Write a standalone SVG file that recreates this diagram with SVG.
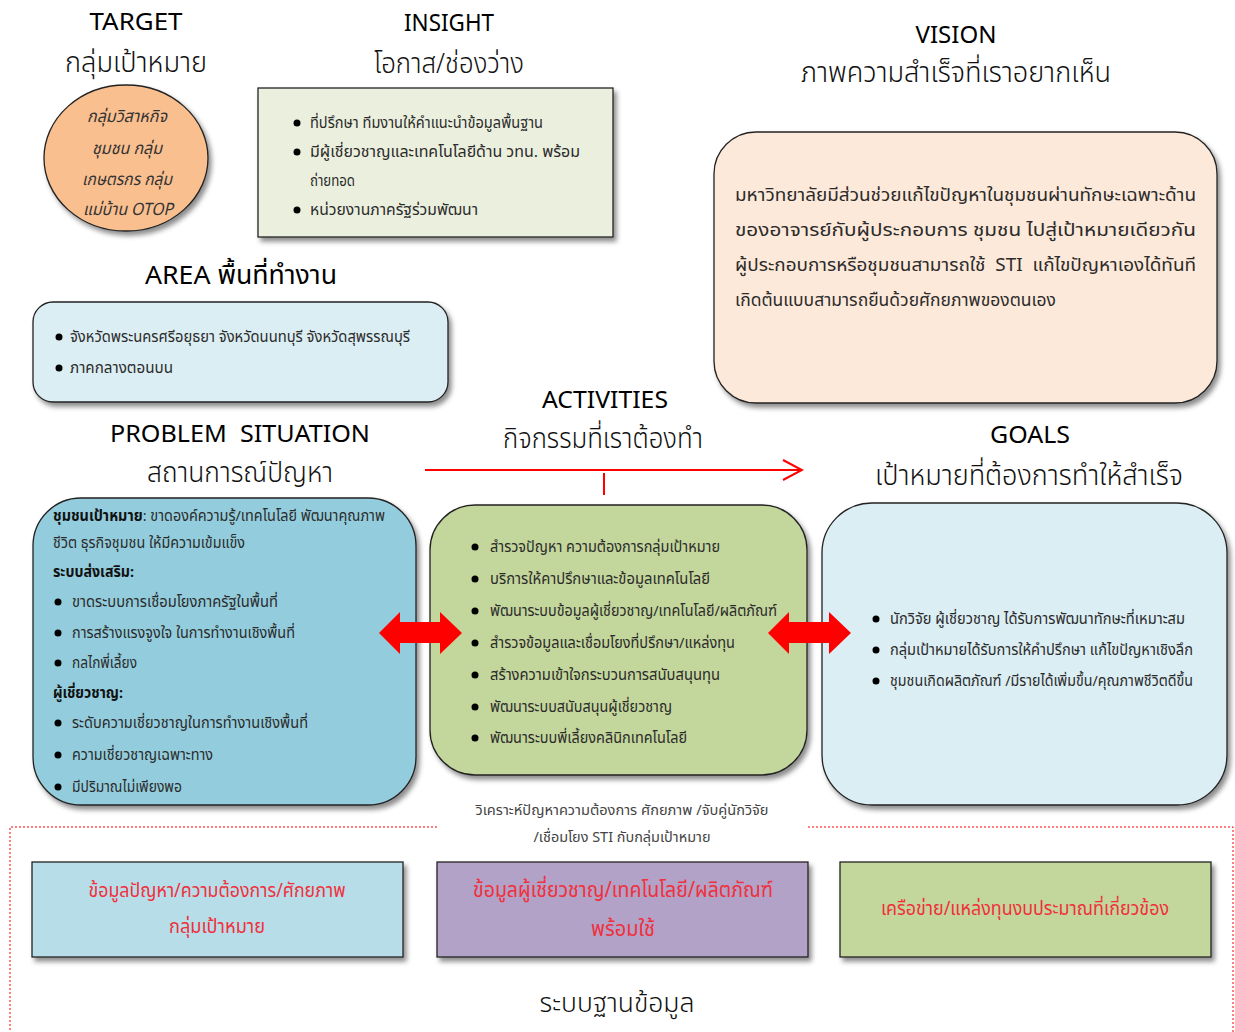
<svg xmlns="http://www.w3.org/2000/svg" width="1235" height="1032" viewBox="0 0 1235 1032">
<defs>
<filter id="sh" x="-10%" y="-10%" width="125%" height="130%">
<feDropShadow dx="3" dy="4" stdDeviation="2.5" flood-color="#000" flood-opacity="0.45"/>
</filter>
<marker id="chev" viewBox="0 0 22 22" refX="20" refY="11" markerWidth="22" markerHeight="22" markerUnits="userSpaceOnUse" orient="auto">
<path d="M1,1 L20,11 L1,21" fill="none" stroke="#FF0000" stroke-width="2"/>
</marker>
</defs>
<style>
text{font-family:"Noto Sans Thai","Noto Sans","DejaVu Sans","Liberation Sans",sans-serif;}
.en{font-size:24px;fill:#000;text-anchor:middle;}
.th{font-size:28px;fill:#111;text-anchor:middle;font-weight:300;}
.hd{font-size:26px;fill:#000;text-anchor:middle;font-weight:normal;}
.b{font-size:15px;fill:#2b2b2b;}
.bd{font-weight:bold;fill:#111;}
.vs{font-size:18px;fill:#2b2b2b;}
.ci{font-size:17px;fill:#333;font-style:italic;text-anchor:middle;}
.rd{fill:#F0303C;text-anchor:middle;}
.box{stroke:#222;stroke-width:1.3;filter:url(#sh);}
.dot{fill:#000;}
.conn{fill:#FF0000;}
</style>
<rect width="1235" height="1032" fill="#fff"/>

<g id="target">
<text class="en" x="136" y="30" textLength="93" lengthAdjust="spacingAndGlyphs">TARGET</text>
<text class="th" x="136" y="72" textLength="142" lengthAdjust="spacingAndGlyphs">กลุ่มเป้าหมาย</text>
<ellipse class="box" cx="126" cy="158" rx="82" ry="73" fill="#FABF8F"/>
<text class="ci" x="127" y="122" textLength="80" lengthAdjust="spacingAndGlyphs">กลุ่มวิสาหกิจ</text>
<text class="ci" x="127" y="154" textLength="70" lengthAdjust="spacingAndGlyphs">ชุมชน กลุ่ม</text>
<text class="ci" x="127" y="185" textLength="90" lengthAdjust="spacingAndGlyphs">เกษตรกร กลุ่ม</text>
<text class="ci" x="128" y="215" textLength="90" lengthAdjust="spacingAndGlyphs">แม่บ้าน OTOP</text>
</g>

<g id="insight">
<text class="en" x="449" y="31" textLength="90" lengthAdjust="spacingAndGlyphs">INSIGHT</text>
<text class="th" x="449" y="73" textLength="150" lengthAdjust="spacingAndGlyphs">โอกาส/ช่องว่าง</text>
<rect class="box" x="258" y="88" width="355" height="149" fill="#EBF0DE"/>
<circle class="dot" cx="297" cy="123" r="3.5"/>
<text class="b" x="310" y="128" textLength="233" lengthAdjust="spacingAndGlyphs">ที่ปรึกษา ทีมงานให้คำแนะนำข้อมูลพื้นฐาน</text>
<circle class="dot" cx="297" cy="152" r="3.5"/>
<text class="b" x="310" y="157" textLength="270" lengthAdjust="spacingAndGlyphs">มีผู้เชี่ยวชาญและเทคโนโลยีด้าน วทน. พร้อม</text>
<text class="b" x="310" y="186" textLength="45" lengthAdjust="spacingAndGlyphs">ถ่ายทอด</text>
<circle class="dot" cx="297" cy="210" r="3.5"/>
<text class="b" x="310" y="215" textLength="168" lengthAdjust="spacingAndGlyphs">หน่วยงานภาครัฐร่วมพัฒนา</text>
</g>

<g id="vision">
<text class="en" x="956" y="43" textLength="81" lengthAdjust="spacingAndGlyphs">VISION</text>
<text class="th" x="956" y="82" textLength="310" lengthAdjust="spacingAndGlyphs">ภาพความสำเร็จที่เราอยากเห็น</text>
<rect class="box" x="714" y="132" width="503" height="271" rx="42" fill="#FDE9D9"/>
<text class="vs" x="735" y="201" textLength="461" lengthAdjust="spacingAndGlyphs">มหาวิทยาลัยมีส่วนช่วยแก้ไขปัญหาในชุมชนผ่านทักษะเฉพาะด้าน</text>
<text class="vs" x="735" y="236" textLength="461" lengthAdjust="spacingAndGlyphs">ของอาจารย์กับผู้ประกอบการ ชุมชน ไปสู่เป้าหมายเดียวกัน</text>
<text class="vs" x="735" y="271" textLength="461" lengthAdjust="spacingAndGlyphs">ผู้ประกอบการหรือชุมชนสามารถใช้&#160;&#160;STI&#160;&#160;แก้ไขปัญหาเองได้ทันที</text>
<text class="vs" x="735" y="306" textLength="321" lengthAdjust="spacingAndGlyphs">เกิดต้นแบบสามารถยืนด้วยศักยภาพของตนเอง</text>
</g>

<g id="area">
<text class="hd" x="241" y="284" textLength="192" lengthAdjust="spacingAndGlyphs">AREA พื้นที่ทำงาน</text>
<rect class="box" x="33" y="302" width="415" height="100" rx="20" fill="#DBEEF4"/>
<circle class="dot" cx="59" cy="337" r="3.5"/>
<text class="b" x="70" y="342" textLength="340" lengthAdjust="spacingAndGlyphs">จังหวัดพระนครศรีอยุธยา จังหวัดนนทบุรี จังหวัดสุพรรณบุรี</text>
<circle class="dot" cx="59" cy="368" r="3.5"/>
<text class="b" x="70" y="373" textLength="103" lengthAdjust="spacingAndGlyphs">ภาคกลางตอนบน</text>
</g>

<g id="problem">
<text class="en" x="240" y="442" textLength="260" lengthAdjust="spacingAndGlyphs">PROBLEM&#160;&#160;SITUATION</text>
<text class="th" x="240" y="482" textLength="186" lengthAdjust="spacingAndGlyphs">สถานการณ์ปัญหา</text>
<rect class="box" x="33" y="498" width="383" height="307" rx="48" fill="#93CDDD"/>
<text class="b" x="53" y="521" textLength="332" lengthAdjust="spacingAndGlyphs"><tspan class="bd">ชุมชนเป้าหมาย</tspan>: ขาดองค์ความรู้/เทคโนโลยี พัฒนาคุณภาพ</text>
<text class="b" x="53" y="548" textLength="192" lengthAdjust="spacingAndGlyphs">ชีวิต ธุรกิจชุมชน ให้มีความเข้มแข็ง</text>
<text class="b bd" x="53" y="577" textLength="81" lengthAdjust="spacingAndGlyphs">ระบบส่งเสริม:</text>
<circle class="dot" cx="58" cy="602" r="3.5"/>
<text class="b" x="72" y="607" textLength="206" lengthAdjust="spacingAndGlyphs">ขาดระบบการเชื่อมโยงภาครัฐในพื้นที่</text>
<circle class="dot" cx="58" cy="633" r="3.5"/>
<text class="b" x="72" y="638" textLength="223" lengthAdjust="spacingAndGlyphs">การสร้างแรงจูงใจ ในการทำงานเชิงพื้นที่</text>
<circle class="dot" cx="58" cy="663" r="3.5"/>
<text class="b" x="72" y="668" textLength="65" lengthAdjust="spacingAndGlyphs">กลไกพี่เลี้ยง</text>
<text class="b bd" x="53" y="698" textLength="70" lengthAdjust="spacingAndGlyphs">ผู้เชี่ยวชาญ:</text>
<circle class="dot" cx="58" cy="723" r="3.5"/>
<text class="b" x="72" y="728" textLength="236" lengthAdjust="spacingAndGlyphs">ระดับความเชี่ยวชาญในการทำงานเชิงพื้นที่</text>
<circle class="dot" cx="58" cy="755" r="3.5"/>
<text class="b" x="72" y="760" textLength="141" lengthAdjust="spacingAndGlyphs">ความเชี่ยวชาญเฉพาะทาง</text>
<circle class="dot" cx="58" cy="787" r="3.5"/>
<text class="b" x="72" y="792" textLength="110" lengthAdjust="spacingAndGlyphs">มีปริมาณไม่เพียงพอ</text>
</g>

<g id="activities">
<text class="en" x="605" y="408" textLength="126" lengthAdjust="spacingAndGlyphs">ACTIVITIES</text>
<text class="th" x="603" y="448" textLength="200" lengthAdjust="spacingAndGlyphs">กิจกรรมที่เราต้องทำ</text>
<rect class="box" x="430" y="505" width="377" height="270" rx="45" fill="#C3D69B"/>
<circle class="dot" cx="475" cy="547" r="3.5"/>
<text class="b" x="490" y="552" textLength="230" lengthAdjust="spacingAndGlyphs">สำรวจปัญหา ความต้องการกลุ่มเป้าหมาย</text>
<circle class="dot" cx="475" cy="579" r="3.5"/>
<text class="b" x="490" y="584" textLength="220" lengthAdjust="spacingAndGlyphs">บริการให้คาปรึกษาและข้อมูลเทคโนโลยี</text>
<circle class="dot" cx="475" cy="611" r="3.5"/>
<text class="b" x="490" y="616" textLength="287" lengthAdjust="spacingAndGlyphs">พัฒนาระบบข้อมูลผู้เชี่ยวชาญ/เทคโนโลยี/ผลิตภัณฑ์</text>
<circle class="dot" cx="475" cy="643" r="3.5"/>
<text class="b" x="490" y="648" textLength="245" lengthAdjust="spacingAndGlyphs">สำรวจข้อมูลและเชื่อมโยงที่ปรึกษา/แหล่งทุน</text>
<circle class="dot" cx="475" cy="675" r="3.5"/>
<text class="b" x="490" y="680" textLength="230" lengthAdjust="spacingAndGlyphs">สร้างความเข้าใจกระบวนการสนับสนุนทุน</text>
<circle class="dot" cx="475" cy="707" r="3.5"/>
<text class="b" x="490" y="712" textLength="182" lengthAdjust="spacingAndGlyphs">พัฒนาระบบสนับสนุนผู้เชี่ยวชาญ</text>
<circle class="dot" cx="475" cy="738" r="3.5"/>
<text class="b" x="490" y="743" textLength="197" lengthAdjust="spacingAndGlyphs">พัฒนาระบบพี่เลี้ยงคลินิกเทคโนโลยี</text>
</g>

<g id="goals">
<text class="en" x="1030" y="443" textLength="80" lengthAdjust="spacingAndGlyphs">GOALS</text>
<text class="th" x="1029" y="485" textLength="308" lengthAdjust="spacingAndGlyphs">เป้าหมายที่ต้องการทำให้สำเร็จ</text>
<rect class="box" x="822" y="503" width="405" height="302" rx="50" fill="#DBEEF4"/>
<circle class="dot" cx="876" cy="619" r="3.5"/>
<text class="b" x="890" y="624" textLength="295" lengthAdjust="spacingAndGlyphs">นักวิจัย ผู้เชี่ยวชาญ ได้รับการพัฒนาทักษะที่เหมาะสม</text>
<circle class="dot" cx="876" cy="650" r="3.5"/>
<text class="b" x="890" y="655" textLength="303" lengthAdjust="spacingAndGlyphs">กลุ่มเป้าหมายได้รับการให้คำปรึกษา แก้ไขปัญหาเชิงลึก</text>
<circle class="dot" cx="876" cy="681" r="3.5"/>
<text class="b" x="890" y="686" textLength="303" lengthAdjust="spacingAndGlyphs">ชุมชนเกิดผลิตภัณฑ์ /มีรายได้เพิ่มขึ้น/คุณภาพชีวิตดีขึ้น</text>
</g>

<g id="connectors">
<line x1="425" y1="470" x2="802" y2="470" stroke="#FF0000" stroke-width="2" marker-end="url(#chev)"/>
<line x1="604" y1="473" x2="604" y2="495" stroke="#FF0000" stroke-width="2"/>
<polygon class="conn" points="379,633 400,612 400,622 440,622 440,612 462,633 440,654 440,643 400,643 400,654"/>
<polygon class="conn" points="768,633 789,612 789,622 829,622 829,612 851,633 829,654 829,643 789,643 789,654"/>
</g>

<g id="database-frame">
<path d="M437,827 H10 V1032 M808,827 H1233 V1032" fill="none" stroke="#FF0000" stroke-width="1" stroke-dasharray="2,2"/>
<text x="622" y="815" font-size="14" fill="#444" text-anchor="middle" textLength="293" lengthAdjust="spacingAndGlyphs">วิเคราะห์ปัญหาความต้องการ ศักยภาพ /จับคู่นักวิจัย</text>
<text x="622" y="842" font-size="14" fill="#444" text-anchor="middle" textLength="177" lengthAdjust="spacingAndGlyphs">/เชื่อมโยง STI กับกลุ่มเป้าหมาย</text>
<text class="th" x="617" y="1012" style="font-size:26px" textLength="155" lengthAdjust="spacingAndGlyphs">ระบบฐานข้อมูล</text>
</g>

<g id="db-problem">
<rect class="box" x="32" y="862" width="371" height="95" fill="#B7DDE8"/>
<text class="rd" x="217" y="897" font-size="19" textLength="257" lengthAdjust="spacingAndGlyphs">ข้อมูลปัญหา/ความต้องการ/ศักยภาพ</text>
<text class="rd" x="217" y="933" font-size="19" textLength="96" lengthAdjust="spacingAndGlyphs">กลุ่มเป้าหมาย</text>
</g>

<g id="db-expert">
<rect class="box" x="437" y="862" width="371" height="95" fill="#B2A2C7"/>
<text class="rd" x="623" y="897" font-size="21" textLength="300" lengthAdjust="spacingAndGlyphs">ข้อมูลผู้เชี่ยวชาญ/เทคโนโลยี/ผลิตภัณฑ์</text>
<text class="rd" x="623" y="936" font-size="21" textLength="64" lengthAdjust="spacingAndGlyphs">พร้อมใช้</text>
</g>

<g id="db-network">
<rect class="box" x="840" y="862" width="371" height="95" fill="#C3D69B"/>
<text class="rd" x="1025" y="915" font-size="19" textLength="288" lengthAdjust="spacingAndGlyphs">เครือข่าย/แหล่งทุนงบประมาณที่เกี่ยวข้อง</text>
</g>
</svg>
